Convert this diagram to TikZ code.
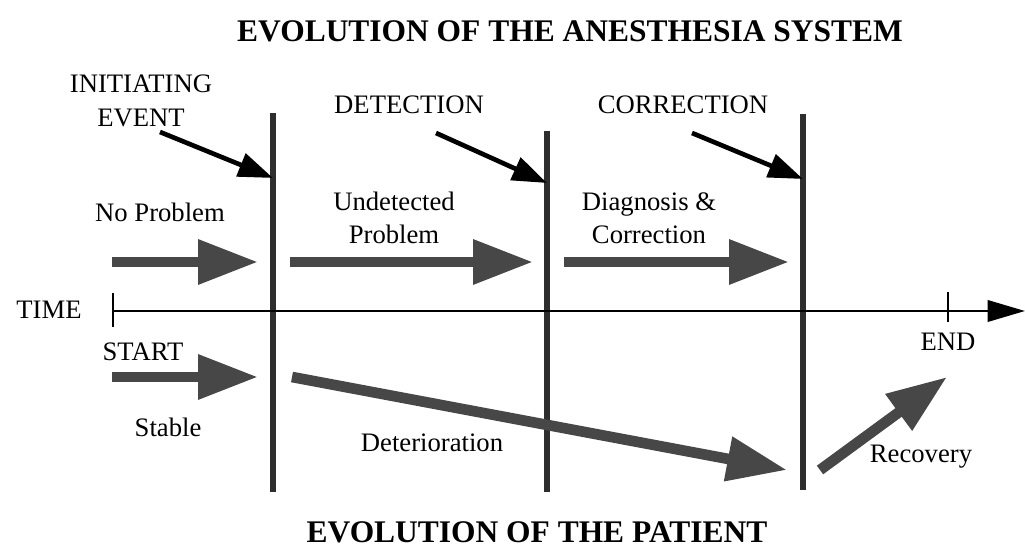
\documentclass[tikz,border=0pt]{standalone}
\usepackage{fontspec}
\setmainfont{Liberation Serif}
\usetikzlibrary{arrows.meta,positioning}

\begin{document}
\begin{tikzpicture}[
  x=0.75pt, y=-0.75pt,
  lbl/.style={inner sep=0pt, align=center, font=\fontsize{20}{25}\selectfont},
  heading/.style={inner sep=0pt, font=\bfseries\fontsize{23.6}{28}\selectfont},
  phase/.style={line width=8pt, draw=black!72, -{Triangle[length=45pt,width=32pt]}},
  pointer/.style={line width=3.5pt, -{Triangle[length=26pt,width=18pt]}},
  divider/.style={line width=4pt, draw=black!82},
  timeline/.style={line width=2pt, -{Triangle[length=28pt,width=16pt]}},
  endmark/.style={line width=2pt}
]
  \useasboundingbox (0,0) rectangle (1025,548);
  % Headings
  \node[heading] (system) at (570,31) {EVOLUTION OF THE ANESTHESIA SYSTEM};
  \node[heading] (patient) at (537,532) {EVOLUTION OF THE PATIENT};
  % Event labels
  \node[lbl] (initiating) at (141,101) {INITIATING\\EVENT};
  \node[lbl] (detection) at (409,105) {DETECTION};
  \node[lbl] (correction) at (683,105) {CORRECTION};
  % Phase labels
  \node[lbl] (noproblem) at (160,212) {No Problem};
  \node[lbl] (undetected) at (394,218) {Undetected\\Problem};
  \node[lbl] (diagnosis) at (649,218) {Diagnosis \&\\Correction};
  \node[lbl] (stable) at (168,427) {Stable};
  \node[lbl] (deterioration) at (432,443) {Deterioration};
  \node[lbl] (recovery) at (921,457) {Recovery};
  % Time axis labels
  \node[lbl] (time) at (49,310) {TIME};
  \node[lbl] (start) at (143,352) {START};
  \node[lbl] (end) at (948,342) {END};
  % Coordinates
  \coordinate (axis-s) at (113,311);
  \coordinate (axis-e) at (1025,311);
  \coordinate (start-t) at (113,293);
  \coordinate (start-b) at (113,327);
  \coordinate (end-t) at (948,292);
  \coordinate (end-b) at (948,322);
  \coordinate (ev-t) at (273,113);
  \coordinate (ev-b) at (273,492);
  \coordinate (det-t) at (547,131);
  \coordinate (det-b) at (547,492);
  \coordinate (cor-t) at (803,114);
  \coordinate (cor-b) at (803,490);
  \coordinate (ev-p) at (160,132);
  \coordinate (ev-h) at (273,178);
  \coordinate (det-p) at (436,133);
  \coordinate (det-h) at (547,183);
  \coordinate (cor-p) at (692,133);
  \coordinate (cor-h) at (803,179);
  \coordinate (np-s) at (112,262);
  \coordinate (np-e) at (258,262);
  \coordinate (up-s) at (290,262);
  \coordinate (up-e) at (533,262);
  \coordinate (dc-s) at (564,262);
  \coordinate (dc-e) at (789,262);
  \coordinate (st-s) at (112,377);
  \coordinate (st-e) at (258,377);
  \coordinate (de-s) at (292,377);
  \coordinate (de-e) at (787,470);
  \coordinate (re-s) at (820,470);
  \coordinate (re-e) at (947,377);
  % Dividers
  \draw[divider] (ev-t) -- (ev-b);
  \draw[divider] (det-t) -- (det-b);
  \draw[divider] (cor-t) -- (cor-b);
  % Time axis
  \draw[timeline] (axis-s) -- (axis-e);
  \draw[endmark] (start-t) -- (start-b);
  \draw[endmark] (end-t) -- (end-b);
  % Pointers
  \draw[pointer] (ev-p) -- (ev-h);
  \draw[pointer] (det-p) -- (det-h);
  \draw[pointer] (cor-p) -- (cor-h);
  % Phases
  \draw[phase] (np-s) -- (np-e);
  \draw[phase] (up-s) -- (up-e);
  \draw[phase] (dc-s) -- (dc-e);
  \draw[phase] (st-s) -- (st-e);
  \draw[phase] (de-s) -- (de-e);
  \draw[phase] (re-s) -- (re-e);
\end{tikzpicture}
\end{document}
